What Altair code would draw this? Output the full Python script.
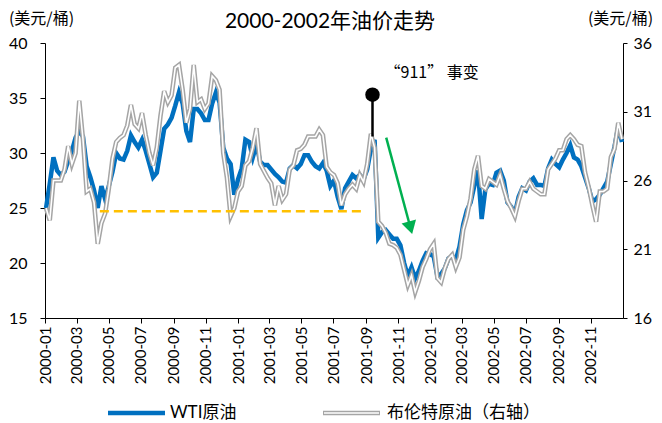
import altair as alt
import pandas as pd

LATIN = "Lato"
CJK = "Noto Sans CJK SC"
MIXED = "Lato, 'Noto Sans CJK SC'"

BLUE = "#0070C0"
GRAY = "#A5A5A5"
ORANGE = "#FFC000"
GREEN = "#00B050"

# Weekly prices, USD per barrel, starting with the first trading week of 2000
first_week = "2000-01-03"

wti = [
    25.0, 27.2, 29.6, 28.4, 28.0, 28.3, 29.3, 30.2, 31.4, 32.0,
    31.5, 28.8, 27.8, 26.6, 25.0, 27.0, 25.8, 27.0, 28.3, 30.0,
    29.5, 29.4, 30.2, 31.6, 31.0, 30.5, 31.2, 30.2, 29.0, 27.8,
    28.2, 30.2, 32.2, 32.6, 33.2, 34.3, 35.5, 34.5, 32.0, 31.0,
    34.0, 34.0, 33.6, 33.0, 33.0, 34.5, 35.5, 34.6, 30.5, 29.5,
    29.0, 26.2, 27.6, 28.6, 31.2, 31.0, 29.6, 30.8, 29.2, 28.9,
    28.9, 28.5, 28.1, 27.8, 27.4, 27.3, 28.6, 28.9, 28.6, 29.0,
    29.8, 29.8, 29.2, 28.8, 28.6, 29.1, 28.4, 27.0, 27.5, 26.0,
    24.9, 26.8, 27.4, 28.0, 27.7, 28.0, 27.6, 28.5, 30.4, 31.2,
    22.3, 22.8, 23.0, 22.6, 22.2, 22.2, 21.6, 20.0, 18.8, 19.6,
    18.6, 19.3, 20.2, 20.9, 20.8, 20.6, 18.8, 19.0, 19.5, 20.4,
    20.6, 20.3, 21.5, 23.5, 24.8, 25.5, 27.0, 28.4, 24.0, 26.7,
    27.2, 27.1, 28.2, 28.4, 27.5, 25.5, 25.1, 24.5, 26.0, 26.8,
    26.6, 27.4, 27.7, 27.1, 27.1, 27.0, 28.6, 29.4, 29.0, 28.7,
    29.4, 30.0, 30.7, 29.6, 29.4, 28.8, 27.8, 26.8, 25.6, 25.8,
    26.2, 26.8, 27.4, 29.0, 30.6, 32.4, 31.0,
]

brent = [
    24.0, 23.1, 26.0, 26.0, 26.0, 26.8, 28.5, 27.2, 28.0, 31.8,
    29.0, 25.2, 25.4, 24.4, 21.4, 22.9, 23.6, 25.4, 27.6, 28.8,
    29.1, 29.3, 30.0, 31.5, 30.1, 29.8, 30.9, 29.3, 28.0, 27.1,
    28.4, 30.7, 32.5, 31.7, 32.2, 34.2, 34.4, 32.6, 30.2, 31.2,
    34.4, 31.7, 31.9, 31.2, 31.6, 33.6, 33.3, 32.6, 28.0, 26.2,
    23.4, 24.0, 25.2, 25.6, 27.1, 27.4, 28.4, 29.8, 27.2, 26.7,
    26.2, 25.8, 24.2, 25.6, 24.6, 25.0, 26.8, 27.1, 28.2, 28.3,
    28.6, 29.2, 29.2, 29.2, 29.7, 29.3, 27.0, 26.6, 26.4, 25.8,
    24.2, 25.0, 25.4, 25.7, 25.4, 26.4, 25.9, 27.2, 29.4, 28.4,
    23.0, 22.7, 22.2, 21.4, 21.3, 21.1, 20.6, 19.5, 18.4, 19.1,
    17.9, 18.7, 19.7, 20.3, 21.0, 21.4, 18.9, 18.6, 19.6, 20.3,
    20.6, 19.7, 20.4, 22.4, 23.4, 24.7, 26.8, 27.8, 25.6, 25.4,
    26.1, 25.9, 25.7, 26.4, 25.4, 24.5, 24.0, 23.4, 24.5, 25.4,
    25.4, 25.9, 25.4, 25.2, 25.0, 25.0, 26.8, 27.2, 27.6, 28.2,
    28.2, 29.0, 29.3, 29.0, 28.6, 28.5, 26.6, 25.5, 24.2, 23.0,
    25.2, 25.2, 25.4, 27.7, 28.3, 30.2, 29.0,
]

tick_labels = [
    "2000-01", "2000-03", "2000-05", "2000-07", "2000-09", "2000-11",
    "2001-01", "2001-03", "2001-05", "2001-07", "2001-09", "2001-11",
    "2002-01", "2002-03", "2002-05", "2002-07", "2002-09", "2002-11",
]
left_ticks = [15, 20, 25, 30, 35, 40]
right_ticks = [16, 21, 26, 31, 36]

# 9/11 event marker
event_date = ["2001-09-13"]
event_top = [35.3]
event_base = [31.5]
event_label = ["“911” 事变"]

# pre-event support level (WTI)
floor_start = ["2000-04-14"]
floor_end = ["2001-08-28"]
floor_value = [24.7]

# post-event slide
arrow_dates = ["2001-10-09", "2001-11-24"]
arrow_values = [31.4, 23.2]

prices = pd.DataFrame({
    "date": pd.date_range(first_week, periods=len(wti), freq="7D"),
    "wti": wti,
    "brent": brent,
})
event_df = pd.DataFrame({
    "date": pd.to_datetime(event_date),
    "top": event_top,
    "base": event_base,
    "label": event_label,
})
floor_df = pd.DataFrame({
    "start": pd.to_datetime(floor_start),
    "end": pd.to_datetime(floor_end),
    "value": floor_value,
})
arrow_df = pd.DataFrame({"date": pd.to_datetime(arrow_dates), "value": arrow_values})
head_df = arrow_df.tail(1)


def month_start(label):
    y, m = label.split("-")
    return alt.DateTime(year=int(y), month=int(m), date=1)


x_scale = alt.Scale(domain=[alt.DateTime(year=2000, month=1, date=1),
                            alt.DateTime(year=2003, month=1, date=1)])
x_axis = alt.Axis(
    values=[month_start(t) for t in tick_labels], format="%Y-%m",
    labelAngle=270, labelFontSize=15, labelPadding=3, tickSize=5,
    labelOverlap=False, labelFlush=False, title=None,
)


def x_enc(field="date"):
    return alt.X(f"{field}:T", scale=x_scale, axis=x_axis)


left_scale = alt.Scale(domain=[15, 40], zero=False, nice=False)
right_scale = alt.Scale(domain=[16, 36], zero=False, nice=False)

left_axis = alt.Axis(
    values=left_ticks, orient="left", labelFontSize=16, labelPadding=13,
    tickSize=5, title="(美元/桶)", titleAngle=0, titleX=-4, titleY=-25,
    titleAlign="center", titleBaseline="middle", titleFont=CJK,
    titleFontSize=16, titleFontWeight="normal", titleColor="#000",
)
right_axis = alt.Axis(
    values=right_ticks, orient="right", labelFontSize=16, labelPadding=6,
    tickSize=4, title="(美元/桶)", titleAngle=0, titleX=-3, titleY=-25,
    titleAlign="center", titleBaseline="middle", titleFont=CJK,
    titleFontSize=16, titleFontWeight="normal", titleColor="#000",
)

base = alt.Chart(prices)

wti_line = base.mark_line(color=BLUE, strokeWidth=4.5).encode(
    x=x_enc(), y=alt.Y("wti:Q", scale=left_scale, axis=left_axis)
)

brent_y = alt.Y("brent:Q", scale=right_scale, axis=right_axis)
brent_outer = base.mark_line(color=GRAY, strokeWidth=4.6).encode(x=x_enc(), y=brent_y)
brent_inner = base.mark_line(color="white", strokeWidth=1.6).encode(x=x_enc(), y=brent_y)


def ann_y(field):
    return alt.Y(f"{field}:Q", scale=left_scale, axis=None)


floor = alt.Chart(floor_df).mark_rule(
    color=ORANGE, strokeWidth=2.5, strokeDash=[9, 5]
).encode(x=x_enc("start"), x2="end:T", y=ann_y("value"))

stem = alt.Chart(event_df).mark_rule(color="black", strokeWidth=2.5).encode(
    x=x_enc(), y=ann_y("top"), y2="base:Q"
)
dot = alt.Chart(event_df).mark_point(
    shape="circle", filled=True, size=210, color="black", opacity=1
).encode(x=x_enc(), y=ann_y("top"))
note = alt.Chart(event_df).mark_text(
    align="left", baseline="middle", dx=12, dy=-22, font=CJK, fontSize=16, color="#000"
).encode(x=x_enc(), y=ann_y("top"), text="label:N")

arrow_line = alt.Chart(arrow_df).mark_line(color=GREEN, strokeWidth=2.5).encode(
    x=x_enc(), y=ann_y("value")
)
arrow_head = alt.Chart(head_df).mark_point(
    shape="triangle-up", angle=165, size=225, filled=True, color=GREEN, opacity=1
).encode(x=x_enc(), y=ann_y("value"))

title = alt.Chart(pd.DataFrame({"t": ["2000-2002年油价走势"]})).mark_text(
    align="center", baseline="middle", font=MIXED, fontSize=21, color="#000"
).encode(x=alt.value(285), y=alt.value(-21), text="t:N")

legend_wti_line = alt.Chart(pd.DataFrame({"s": ["WTI原油"]})).mark_rule(
    color=BLUE, strokeWidth=4.5
).encode(x=alt.value(63), x2=alt.value(120), y=alt.value(370))
legend_wti_text = alt.Chart(pd.DataFrame({"s": ["WTI原油"]})).mark_text(
    align="left", baseline="middle", font=MIXED, fontSize=17, color="#000"
).encode(x=alt.value(125), y=alt.value(370), text="s:N")
legend_brent_outer = alt.Chart(pd.DataFrame({"s": ["布伦特原油（右轴）"]})).mark_rule(
    color=GRAY, strokeWidth=4.6
).encode(x=alt.value(278), x2=alt.value(335), y=alt.value(370))
legend_brent_inner = alt.Chart(pd.DataFrame({"s": ["布伦特原油（右轴）"]})).mark_rule(
    color="white", strokeWidth=1.6
).encode(x=alt.value(279), x2=alt.value(334), y=alt.value(370))
legend_brent_text = alt.Chart(pd.DataFrame({"s": ["布伦特原油（右轴）"]})).mark_text(
    align="left", baseline="middle", font=MIXED, fontSize=17, color="#000"
).encode(x=alt.value(342), y=alt.value(370), text="s:N")

left_group = alt.layer(wti_line)
right_group = alt.layer(brent_outer, brent_inner)
notes_group = alt.layer(floor, stem, dot, note, arrow_line, arrow_head)

chart = (
    alt.layer(
        left_group, right_group, notes_group, title,
        legend_wti_line, legend_wti_text,
        legend_brent_outer, legend_brent_inner, legend_brent_text,
    )
    .resolve_scale(y="independent")
    .properties(
        width=578, height=275,
        padding={"left": 45, "top": 43, "right": 39, "bottom": 105},
        autosize=alt.AutoSizeParams(type="none"),
    )
    .configure_view(stroke=None)
    .configure_axis(
        labelFont=LATIN, labelColor="#000", tickColor="#000",
        domainColor="#000", grid=False, tickWidth=1, domainWidth=1,
    )
)

chart.save("out.html", embed_options={"renderer": "svg", "actions": False})
